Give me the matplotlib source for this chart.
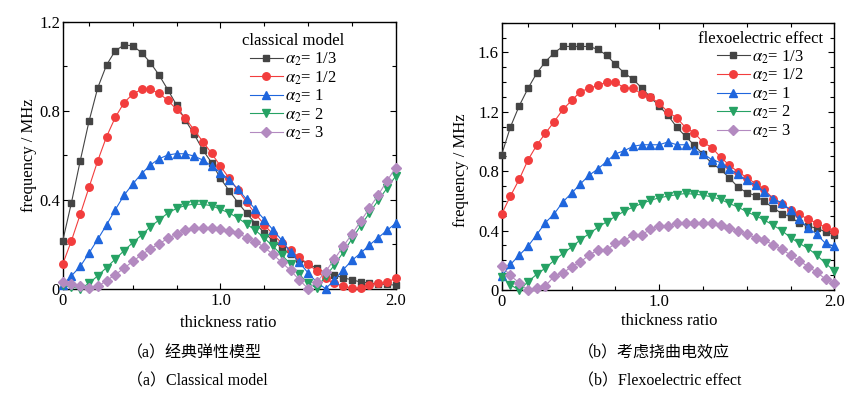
import matplotlib
matplotlib.use("Agg")
import matplotlib.pyplot as plt
from matplotlib.ticker import FixedLocator, NullFormatter

plt.rcParams['font.family'] = ['Liberation Serif', 'DejaVu Serif']
plt.rcParams['mathtext.fontset'] = 'stix'

# thickness ratio sample points (39 evenly spaced samples from 0 to 2.0)
x = [0.0, 0.0526, 0.1053, 0.1579, 0.2105, 0.2632, 0.3158, 0.3684, 0.4211, 0.4737,
     0.5263, 0.5789, 0.6316, 0.6842, 0.7368, 0.7895, 0.8421, 0.8947, 0.9474, 1.0,
     1.0526, 1.1053, 1.1579, 1.2105, 1.2632, 1.3158, 1.3684, 1.4211, 1.4737, 1.5263,
     1.5789, 1.6316, 1.6842, 1.7368, 1.7895, 1.8421, 1.8947, 1.9474, 2.0]

series_labels = [r'$\alpha_2$= 1/3', r'$\alpha_2$= 1/2', r'$\alpha_2$= 1',
                 r'$\alpha_2$= 2', r'$\alpha_2$= 3']

# (a) classical model
cl_a13 = [0.214, 0.387, 0.575, 0.752, 0.903, 1.005, 1.070, 1.095, 1.092, 1.061,
          1.016, 0.960, 0.894, 0.825, 0.758, 0.694, 0.623, 0.566, 0.496, 0.440,
          0.387, 0.338, 0.293, 0.251, 0.216, 0.184, 0.154, 0.133, 0.111, 0.092,
          0.070, 0.061, 0.049, 0.040, 0.030, 0.026, 0.021, 0.019, 0.016]
cl_a12 = [0.110, 0.216, 0.334, 0.455, 0.575, 0.683, 0.770, 0.836, 0.875, 0.896,
          0.896, 0.878, 0.846, 0.806, 0.766, 0.713, 0.661, 0.608, 0.551, 0.496,
          0.443, 0.388, 0.336, 0.288, 0.244, 0.205, 0.172, 0.141, 0.111, 0.079,
          0.046, 0.024, 0.012, 0.002, 0.003, 0.018, 0.024, 0.028, 0.048]
cl_a1 = [0.015, 0.058, 0.100, 0.160, 0.222, 0.287, 0.355, 0.420, 0.471, 0.517,
         0.556, 0.584, 0.601, 0.607, 0.606, 0.596, 0.578, 0.551, 0.522, 0.489,
         0.447, 0.401, 0.356, 0.311, 0.264, 0.218, 0.163, 0.118, 0.071, 0.029,
         0.000, 0.039, 0.085, 0.127, 0.160, 0.196, 0.229, 0.262, 0.294]
cl_a2 = [0.015, 0.007, 0.000, 0.024, 0.058, 0.095, 0.133, 0.171, 0.207, 0.241,
         0.278, 0.309, 0.340, 0.361, 0.374, 0.380, 0.379, 0.373, 0.357, 0.340,
         0.318, 0.290, 0.262, 0.228, 0.190, 0.152, 0.110, 0.065, 0.024, 0.004,
         0.055, 0.106, 0.163, 0.223, 0.283, 0.340, 0.397, 0.451, 0.506]
cl_a3 = [0.030, 0.020, 0.014, 0.002, 0.010, 0.036, 0.063, 0.092, 0.123, 0.152,
         0.179, 0.202, 0.226, 0.245, 0.263, 0.274, 0.275, 0.275, 0.269, 0.260,
         0.249, 0.229, 0.211, 0.186, 0.154, 0.118, 0.082, 0.040, 0.000, 0.030,
         0.077, 0.132, 0.190, 0.245, 0.303, 0.362, 0.421, 0.484, 0.544]

# (b) flexoelectric effect
fx_a13 = [0.912, 1.098, 1.240, 1.357, 1.460, 1.538, 1.598, 1.640, 1.640, 1.640,
          1.640, 1.620, 1.580, 1.519, 1.461, 1.420, 1.360, 1.298, 1.238, 1.176,
          1.096, 1.035, 0.975, 0.914, 0.854, 0.812, 0.755, 0.693, 0.655, 0.636,
          0.596, 0.554, 0.515, 0.493, 0.450, 0.431, 0.415, 0.392, 0.372]
fx_a12 = [0.512, 0.633, 0.745, 0.875, 0.975, 1.056, 1.134, 1.216, 1.277, 1.336,
          1.358, 1.378, 1.400, 1.400, 1.360, 1.360, 1.318, 1.297, 1.257, 1.198,
          1.160, 1.094, 1.058, 0.995, 0.959, 0.896, 0.840, 0.796, 0.757, 0.717,
          0.677, 0.616, 0.578, 0.538, 0.511, 0.475, 0.453, 0.421, 0.399]
fx_a1 = [0.092, 0.172, 0.234, 0.294, 0.373, 0.454, 0.513, 0.594, 0.653, 0.715,
         0.773, 0.816, 0.866, 0.917, 0.938, 0.967, 0.978, 0.978, 0.978, 0.997,
         0.978, 0.978, 0.940, 0.919, 0.878, 0.858, 0.818, 0.778, 0.739, 0.706,
         0.661, 0.616, 0.587, 0.538, 0.475, 0.419, 0.374, 0.314, 0.296]
fx_a2 = [0.090, 0.034, 0.000, 0.055, 0.106, 0.148, 0.200, 0.246, 0.290, 0.338,
         0.380, 0.422, 0.460, 0.495, 0.531, 0.558, 0.582, 0.604, 0.621, 0.632,
         0.642, 0.650, 0.645, 0.639, 0.627, 0.610, 0.583, 0.558, 0.527, 0.500,
         0.471, 0.437, 0.400, 0.353, 0.314, 0.280, 0.235, 0.179, 0.130]
fx_a3 = [0.159, 0.098, 0.047, 0.000, 0.011, 0.029, 0.092, 0.117, 0.155, 0.190,
         0.235, 0.271, 0.271, 0.314, 0.332, 0.371, 0.371, 0.410, 0.431, 0.431,
         0.453, 0.453, 0.453, 0.453, 0.453, 0.437, 0.420, 0.397, 0.375, 0.353,
         0.334, 0.306, 0.275, 0.235, 0.197, 0.157, 0.119, 0.074, 0.050]

xtick_labels = ['0', '1.0', '2.0']
legend_titles = ['classical model', 'flexoelectric effect']
captions_cn = ['（a）经典弹性模型', '（b）考虑挠曲电效应']
captions_en = ['（a）Classical model', '（b）Flexoelectric effect']

colors = ['#444444', '#f23d3d', '#1f66dd', '#26a264', '#b38ac0']
markers = ['s', 'o', '^', 'v', 'D']
msizes = [4.8, 5.4, 5.6, 5.6, 4.6]

W, H = 858, 394
fig = plt.figure(figsize=(W / 100, H / 100), dpi=100)

def px_axes(l, t, r, b):
    return fig.add_axes([l / W, 1 - b / H, (r - l) / W, (b - t) / H])

ax1 = px_axes(62.7, 21.7, 395.7, 288.7)
ax2 = px_axes(501.7, 22.7, 834.3, 290.0)

FS = 12
panels = [
    (ax1, [cl_a13, cl_a12, cl_a1, cl_a2, cl_a3], 1.2, 0.4, 0.2,
     (0.88, 1.0), (-0.077, 0.50), (0.496, -0.097)),
    (ax2, [fx_a13, fx_a12, fx_a1, fx_a2, fx_a3], 1.8, 0.4, 0.1,
     (1.0, 1.012), (-0.099, 0.45), (0.505, -0.086)),
]

for k, (ax, ys, ymax, ymaj, ymin, leg_anchor, ylab, xlab) in enumerate(panels):
    for y, c, m, ms, lab in zip(ys, colors, markers, msizes, series_labels):
        ax.plot(x, y, color=c, lw=0.8, marker=m, ms=ms, mec=c, mfc=c,
                label=lab, clip_on=False, zorder=3)
    ax.set_xlim(0, 2.0)
    ax.set_ylim(0, ymax)
    # labelled ticks at the 1st, 19th and 39th samples, minor ticks every 5 samples
    ax.xaxis.set_major_locator(FixedLocator([x[0], x[18], x[38]]))
    ax.set_xticklabels(xtick_labels)
    ax.xaxis.set_minor_locator(FixedLocator([x[i] for i in (3, 8, 13, 23, 28, 33)]))
    nmaj = int(round(ymax / ymaj))
    majors = [round(i * ymaj, 3) for i in range(nmaj + 1) if i * ymaj <= ymax + 1e-9]
    ax.yaxis.set_major_locator(FixedLocator(majors))
    ax.set_yticklabels(['0' if v == 0 else f'{v:.1f}' for v in majors])
    nmin = int(round(ymax / ymin))
    ax.yaxis.set_minor_locator(FixedLocator([round(i * ymin, 3) for i in range(nmin + 1)]))
    ax.yaxis.set_minor_formatter(NullFormatter())
    ax.tick_params(which='both', direction='in', top=True, right=True,
                   labelsize=FS, width=0.8, colors='black')
    ax.tick_params(which='major', length=4.0)
    ax.tick_params(which='minor', length=3.0)
    ax.tick_params(axis='x', which='major', pad=3.0)
    ax.tick_params(axis='y', which='major', pad=2.0)
    for s in ax.spines.values():
        s.set_linewidth(1.0)
        s.set_color('black')
    ax.set_ylabel('frequency / MHz', fontsize=FS)
    ax.yaxis.set_label_coords(*ylab)
    ax.set_xlabel('thickness ratio', fontsize=FS)
    ax.xaxis.set_label_coords(*xlab)
    leg = ax.legend(title=legend_titles[k], loc='upper right',
                    bbox_to_anchor=leg_anchor, frameon=False, fontsize=FS,
                    title_fontsize=FS, handlelength=2.0, handletextpad=0.1,
                    labelspacing=0.07, borderaxespad=0.3, alignment='center')

cap_x = [127, 578]
for cx, cn, en in zip(cap_x, captions_cn, captions_en):
    fig.text(cx / W, 1 - 353 / H, cn, ha='left', va='center', fontsize=11.5,
             family=['Liberation Serif', 'Noto Sans CJK SC'])
    fig.text(cx / W, 1 - 381.5 / H, en, ha='left', va='center', fontsize=11.5,
             family=['Liberation Serif', 'Noto Sans CJK SC'])

fig.savefig('out.png', dpi=100)
